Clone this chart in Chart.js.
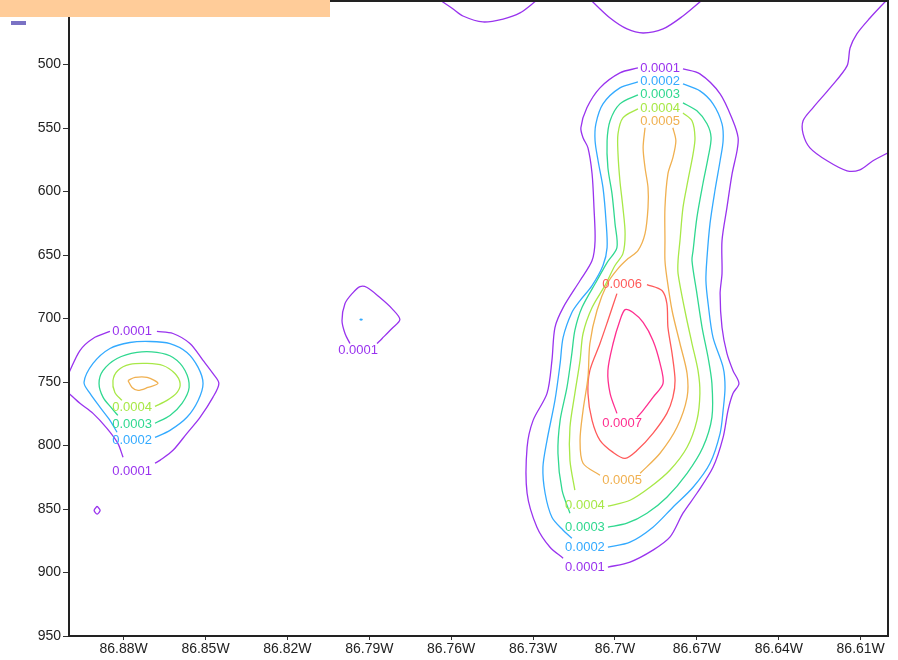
<!DOCTYPE html>
<html>
<head>
<meta charset="utf-8">
<script src="https://cdn.jsdelivr.net/npm/chart.js@4/dist/chart.umd.min.js"></script>
<style>
  html, body { margin: 0; padding: 0; background: #ffffff; }
  #wrap { position: relative; width: 898px; height: 660px; }
  #c { position: absolute; left: 0; top: 0; }
  #band { position: absolute; left: 0; top: 0; width: 330px; height: 17px; background: #ffcc99; }
  #swatch { position: absolute; left: 11px; top: 21px; width: 15px; height: 4px; background: #7a72c4; }
</style>
</head>
<body>
<div id="wrap">
  <canvas id="c" width="898" height="660"></canvas>
  <div id="band"></div>
  <div id="swatch"></div>
</div>
<script>
// ---------------- data (longitude in degrees West, pressure in hPa) ----------------
const xTickValues = [86.88, 86.85, 86.82, 86.79, 86.76, 86.73, 86.70, 86.67, 86.64, 86.61];
const yTickValues = [500, 550, 600, 650, 700, 750, 800, 850, 900, 950];
const levels = ['0.0001', '0.0002', '0.0003', '0.0004', '0.0005', '0.0006', '0.0007'];
const levelColors = ['#9933ee', '#33aaff', '#30d890', '#a8e848', '#f0b050', '#ff5a5a', '#ff2f8f'];

// level 0.0001
const contour0001 = [
  [[86.6916,502.7],[86.6982,506.6],[86.7055,518.4],[86.7103,534.1],[86.7125,549.8],[86.7117,557.7],[86.7099,565.6],[86.7084,586.0],[86.7077,612.7],[86.7073,638.7],[86.7084,654.4],[86.7128,670.1],[86.7190,691.4],[86.7220,707.1],[86.7231,733.0],[86.7249,759.0],[86.7300,780.2],[86.7322,801.4],[86.7322,837.6],[86.7286,864.3],[86.7238,880.1],[86.7190,888.7]],
  [[86.7026,895.8],[86.6945,891.8],[86.6861,882.4],[86.6799,872.2],[86.6751,853.3],[86.6700,837.6],[86.6641,817.2],[86.6604,793.6],[86.6586,772.3],[86.6568,759.0],[86.6546,751.1],[86.6568,740.9],[86.6590,727.5],[86.6608,707.1],[86.6615,680.4],[86.6608,664.6],[86.6608,638.7],[86.6590,612.7],[86.6571,586.0],[86.6553,567.9],[86.6549,557.7],[86.6568,544.3],[86.6615,523.1],[86.6689,507.4],[86.6751,503.5]],
  [[86.8678,710.2],[86.8619,711.8],[86.8557,719.7],[86.8509,733.0],[86.8473,743.3],[86.8451,751.1],[86.8473,762.1],[86.8520,777.8],[86.8568,790.4],[86.8619,803.8],[86.8667,811.7],[86.8685,814.0]],
  [[86.8850,710.2],[86.8912,715.7],[86.8960,725.2],[86.9000,742.6]],
  [[86.9000,759.0],[86.8960,766.8],[86.8912,774.7],[86.8861,786.5],[86.8821,798.3],[86.8802,809.3]],
  [[86.8897,847.8],[86.8886,851.0],[86.8897,854.1],[86.8908,851.0],[86.8897,847.8]],
  [[86.7872,719.7],[86.7853,715.7],[86.7817,707.9],[86.7788,700.8],[86.7817,692.2],[86.7861,683.5],[86.7908,675.6],[86.7934,674.9],[86.7963,680.4],[86.7989,688.2],[86.8000,701.6],[86.7989,711.8],[86.7971,719.7]],
  [[86.7636,450.0],[86.7593,456.3],[86.7557,461.8],[86.7484,466.5],[86.7410,464.2],[86.7348,459.4],[86.7290,450.0]],
  [[86.7085,450.0],[86.7018,463.4],[86.6956,472.0],[86.6897,475.2],[86.6824,472.0],[86.6751,461.8],[86.6685,450.0]],
  [[86.6008,450.0],[86.6066,463.4],[86.6114,475.9],[86.6139,487.0],[86.6150,501.1],[86.6212,518.4],[86.6275,534.1],[86.6311,544.3],[86.6311,554.6],[86.6286,565.6],[86.6223,575.8],[86.6150,583.7],[86.6103,582.9],[86.6055,575.8],[86.6000,569.5]]
];
// level 0.0002
const contour0002 = [
  [[86.6916,513.7],[86.6982,518.4],[86.7044,531.0],[86.7070,546.7],[86.7073,560.1],[86.7062,575.8],[86.7044,597.0],[86.7033,623.0],[86.7029,644.2],[86.7044,658.3],[86.7084,674.1],[86.7128,685.9],[86.7158,695.3],[86.7190,714.9],[86.7201,735.4],[86.7220,764.5],[86.7249,795.9],[86.7264,817.2],[86.7256,837.6],[86.7231,856.5],[86.7190,866.7],[86.7158,873.0]],
  [[86.7026,880.1],[86.6945,876.1],[86.6861,864.3],[86.6788,848.6],[86.6714,832.9],[86.6652,814.0],[86.6615,790.4],[86.6604,772.3],[86.6597,754.3],[86.6604,738.5],[86.6641,714.9],[86.6659,688.2],[86.6667,670.1],[86.6663,652.1],[86.6652,625.3],[86.6634,599.4],[86.6615,575.8],[86.6604,560.1],[86.6608,546.7],[86.6641,531.0],[86.6689,520.8],[86.6751,515.3]],
  [[86.8685,793.6],[86.8630,788.1],[86.8568,777.8],[86.8527,764.5],[86.8509,751.1],[86.8527,738.5],[86.8568,726.7],[86.8630,719.7],[86.8703,718.1],[86.8777,718.9],[86.8850,723.6],[86.8912,735.4],[86.8945,750.3],[86.8923,759.0],[86.8886,770.0],[86.8850,780.2],[86.8824,789.6]],
  [[86.7930,700.4],[86.7926,700.8],[86.7930,701.2],[86.7934,700.8],[86.7930,700.4]]
];
// level 0.0003
const contour0003 = [
  [[86.6916,523.9],[86.6982,531.0],[86.7018,544.3],[86.7029,560.1],[86.7026,581.3],[86.7011,601.7],[86.7000,625.3],[86.6993,644.2],[86.7029,656.0],[86.7066,670.1],[86.7121,691.4],[86.7147,709.4],[86.7158,727.5],[86.7176,754.3],[86.7201,780.2],[86.7209,806.1],[86.7194,835.2],[86.7165,853.3]],
  [[86.7026,864.3],[86.6956,861.2],[86.6883,853.3],[86.6810,840.7],[86.6736,821.9],[86.6678,801.4],[86.6645,777.8],[86.6645,751.1],[86.6659,730.7],[86.6681,707.1],[86.6700,680.4],[86.6718,654.4],[86.6714,646.6],[86.6700,620.6],[86.6678,593.9],[86.6659,573.4],[86.6648,557.7],[86.6663,546.7],[86.6700,536.5],[86.6751,530.2]],
  [[86.8685,782.5],[86.8630,776.3],[86.8586,766.8],[86.8560,754.3],[86.8575,740.9],[86.8619,730.7],[86.8678,726.7],[86.8751,726.7],[86.8824,731.5],[86.8875,740.9],[86.8890,751.1],[86.8875,762.1],[86.8843,770.8],[86.8821,776.3]]
];
// level 0.0004
const contour0004 = [
  [[86.6916,534.9],[86.6971,542.0],[86.6989,554.6],[86.6989,570.3],[86.6982,591.5],[86.6971,612.7],[86.6963,633.2],[86.6971,648.9],[86.7000,658.3],[86.7037,674.1],[86.7084,691.4],[86.7117,711.8],[86.7128,733.0],[86.7147,759.0],[86.7165,785.7],[86.7165,811.7],[86.7147,835.2]],
  [[86.7026,847.8],[86.6945,843.1],[86.6872,832.9],[86.6799,819.5],[86.6736,801.4],[86.6700,780.2],[86.6689,759.0],[86.6696,740.9],[86.6718,719.7],[86.6744,693.7],[86.6769,664.6],[86.6769,654.4],[86.6762,638.7],[86.6751,612.7],[86.6733,591.5],[86.6714,570.3],[86.6707,557.7],[86.6718,544.3],[86.6751,538.1]],
  [[86.8685,769.2],[86.8641,764.5],[86.8604,758.2],[86.8593,751.1],[86.8612,743.3],[86.8656,737.0],[86.8714,735.4],[86.8777,736.2],[86.8821,740.9],[86.8839,748.8],[86.8832,758.2],[86.8806,764.5]]
];
// level 0.0005
const contour0005 = [
  [[86.6890,549.8],[86.6897,565.6],[86.6890,581.3],[86.6879,597.0],[86.6879,612.7],[86.6890,633.2],[86.6916,646.6],[86.6952,652.8],[86.6989,660.7],[86.7026,671.7],[86.7066,693.7],[86.7092,719.7],[86.7099,746.4],[86.7117,772.3],[86.7128,795.9],[86.7117,814.0],[86.7055,823.4]],
  [[86.6908,821.9],[86.6835,806.1],[86.6773,785.7],[86.6736,762.1],[86.6736,743.3],[86.6762,719.7],[86.6791,693.7],[86.6810,667.8],[86.6817,654.4],[86.6817,638.7],[86.6817,612.7],[86.6806,586.0],[86.6788,573.4],[86.6777,560.1],[86.6788,549.8]],
  [[86.8784,748.8],[86.8758,746.4],[86.8714,746.4],[86.8674,751.1],[86.8711,754.3],[86.8747,756.6],[86.8769,754.3],[86.8784,748.8]]
];
// level 0.0006
const contour0006 = [
  [[86.6883,673.3],[86.6828,678.0],[86.6810,688.2],[86.6806,707.1],[86.6791,727.5],[86.6780,748.8],[86.6788,762.1],[86.6810,774.7],[86.6861,790.4],[86.6919,803.8],[86.6963,810.1],[86.7007,805.4],[86.7055,795.9],[86.7084,780.2],[86.7099,759.0],[86.7092,740.9],[86.7055,719.7],[86.7026,701.6],[86.6993,680.4]]
];
// level 0.0007
const contour0007 = [
  [[86.6993,774.7],[86.7018,759.0],[86.7026,740.9],[86.7007,719.7],[86.6982,701.6],[86.6963,693.0],[86.6934,695.3],[86.6897,703.1],[86.6861,717.3],[86.6835,735.4],[86.6824,751.1],[86.6861,762.1],[86.6897,772.3],[86.6919,777.8]]
];
const contoursByLevel = [contour0001, contour0002, contour0003, contour0004, contour0005, contour0006, contour0007];

// contour labels: level index, longitude (W), pressure
const labelLevel = [0, 1, 2, 3, 4, 0, 1, 2, 3, 4, 5, 6, 0, 3, 2, 1, 0, 0];
const labelLon = [86.6835, 86.6835, 86.6835, 86.6835, 86.6835, 86.7110, 86.7110, 86.7110, 86.7110, 86.6974, 86.6974, 86.6974, 86.8769, 86.8769, 86.8769, 86.8769, 86.8769, 86.7941];
const labelP = [502.7, 513.7, 523.9, 534.9, 545.1, 895.8, 880.1, 864.3, 847.0, 827.4, 673.3, 782.5, 710.2, 770.0, 783.3, 795.9, 820.3, 725.2];

// ---------------- chart ----------------
const datasets = [];
contoursByLevel.forEach((segs, li) => {
  segs.forEach(seg => {
    datasets.push({
      data: seg.map(p => ({ x: p[0], y: p[1] })),
      showLine: true,
      borderColor: levelColors[li],
      borderWidth: 1.3,
      pointRadius: 0,
      tension: 0.3,
      fill: false
    });
  });
});

const framePlugin = {
  id: 'frameAndLabels',
  afterDatasetsDraw(chart) {
    const { ctx, chartArea: a, scales } = chart;
    ctx.save();
    ctx.font = '13px "Liberation Sans", Arial, sans-serif';
    ctx.textAlign = 'center';
    ctx.textBaseline = 'middle';
    for (let i = 0; i < labelLevel.length; i++) {
      const x = scales.x.getPixelForValue(labelLon[i]);
      const y = scales.y.getPixelForValue(labelP[i]);
      ctx.fillStyle = levelColors[labelLevel[i]];
      ctx.fillText(levels[labelLevel[i]], x, y);
    }
    ctx.strokeStyle = '#222';
    ctx.lineWidth = 2;
    ctx.strokeRect(a.left, a.top, a.right - a.left, a.bottom - a.top);
    ctx.restore();
  }
};

new Chart(document.getElementById('c'), {
  type: 'scatter',
  data: { datasets },
  options: {
    responsive: false,
    animation: false,
    devicePixelRatio: 1,
    layout: { padding: { top: 1, right: 10, left: 0, bottom: 0 } },
    plugins: { legend: { display: false }, tooltip: { enabled: false } },
    scales: {
      x: {
        type: 'linear', min: 86.60, max: 86.90, reverse: true,
        afterBuildTicks(s) { s.ticks = xTickValues.map(v => ({ value: v })); },
        afterFit(s) { s.height = 24; s.paddingLeft = 0; s.paddingRight = 0; },
        grid: { drawOnChartArea: false, drawTicks: true, tickLength: 4, color: '#333', lineWidth: 1 },
        border: { display: true, color: '#222', width: 2 },
        ticks: {
          autoSkip: false, maxRotation: 0, padding: 1, color: '#222',
          font: { family: '"Liberation Sans Narrow", "Liberation Sans", Arial, sans-serif', size: 14 },
          callback: v => (+(+v).toFixed(2)) + 'W'
        }
      },
      y: {
        type: 'linear', min: 450, max: 950, reverse: true,
        afterBuildTicks(s) { s.ticks = yTickValues.map(v => ({ value: v })); },
        afterFit(s) { s.width = 69; s.paddingTop = 0; s.paddingBottom = 0; },
        grid: { drawOnChartArea: false, drawTicks: true, tickLength: 6, color: '#333', lineWidth: 1 },
        border: { display: true, color: '#222', width: 2 },
        ticks: {
          padding: 2, color: '#222',
          font: { family: '"Liberation Sans", Arial, sans-serif', size: 14 },
          callback: v => String(v)
        }
      }
    }
  },
  plugins: [framePlugin]
});
</script>
</body>
</html>
